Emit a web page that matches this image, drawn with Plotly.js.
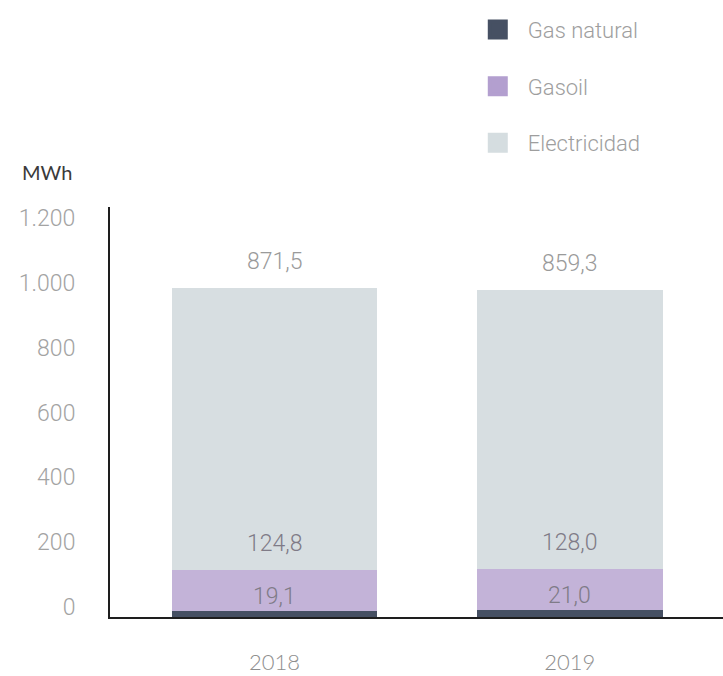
<!DOCTYPE html>
<html><head><meta charset="utf-8">
<script src="https://cdn.plot.ly/plotly-3.0.1.min.js"></script>
<style>html,body{margin:0;padding:0;background:#fff}</style>
</head><body>
<div id="chart" style="width:723px;height:676px"></div>
<script>
const years = ['2018', '2019'];
const seriesNames = ['Gas natural', 'Gasoil', 'Electricidad'];
const gasNatural = [19.1, 21.0];
const gasoil = [124.8, 128.0];
const electricidad = [871.5, 859.3];
const yTickVals = [0, 200, 400, 600, 800, 1000, 1200];

const barColors = ['#465063', '#c3b3d8', '#d7dee1'];
const legendColors = ['#465063', '#b39fcf', '#d5dde0'];
const series = [gasNatural, gasoil, electricidad];

const traces = [];
series.forEach((vals, i) => {
  traces.push({
    type: 'bar', x: years, y: vals, name: seriesNames[i],
    marker: {color: barColors[i], line: {width: 0}},
    width: [0.694, 0.63], showlegend: false, hoverinfo: 'skip'
  });
});
series.forEach((vals, i) => {
  traces.push({
    type: 'scatter', mode: 'markers', x: [null], y: [null], name: seriesNames[i],
    legendgroup: 'g' + i,
    marker: {symbol: 'square', size: 16, color: legendColors[i], line: {color: legendColors[i], width: 4}}
  });
});

const fmt = v => v.toFixed(1).replace('.', ',');
const annotations = [];
years.forEach((yr, j) => {
  let cum = 0;
  series.forEach((vals, i) => {
    cum += vals[j];
    annotations.push({
      x: j, y: cum, xref: 'x', yref: 'y', text: fmt(vals[j]), showarrow: false,
      yanchor: 'bottom', yshift: i === 0 ? -1 : 11,
      font: {family: 'Roboto', weight: 300, size: 23, color: i === 2 ? '#9a9a9a' : '#7f7b87'}
    });
  });
});
annotations.push({
  xref: 'paper', yref: 'paper', x: -0.147, y: 1.085, xanchor: 'left', yanchor: 'middle',
  text: 'MWh', showarrow: false, font: {family: 'Lato', size: 20, color: '#3a3a3a'}
});

const layout = {
  width: 723, height: 676,
  margin: {l: 110, r: 0, t: 207, b: 59, autoexpand: false},
  paper_bgcolor: '#fff', plot_bgcolor: '#fff',
  barmode: 'stack', separators: ',.',
  showlegend: true,
  legend: {
    xref: 'container', yref: 'container', x: 0.647, y: 0.987, xanchor: 'left', yanchor: 'top',
    traceorder: 'grouped', tracegroupgap: 25, itemwidth: 50,
    font: {family: 'Roboto', weight: 300, size: 22, color: '#9e9e9e'}
  },
  xaxis: {
    type: 'category', range: [-0.557, 1.519], showgrid: false, zeroline: false,
    showline: true, linecolor: '#1e1e1e', linewidth: 2, ticks: '',
    ticklabelstandoff: 25,
    tickfont: {family: 'Lato', weight: 300, size: 22, color: '#8e8e8e'}
  },
  yaxis: {
    range: [0, 1265], tickvals: yTickVals, separatethousands: true,
    showgrid: false, zeroline: false, showline: true, linecolor: '#1e1e1e', linewidth: 2,
    ticks: '', ticklabelstandoff: 28, ticklabelshift: -10,
    tickfont: {family: 'Roboto', weight: 300, size: 23, color: '#a3a3a3'}
  },
  annotations: annotations
};

Plotly.newPlot('chart', traces, layout, {displayModeBar: false, staticPlot: true});
</script>
</body></html>
